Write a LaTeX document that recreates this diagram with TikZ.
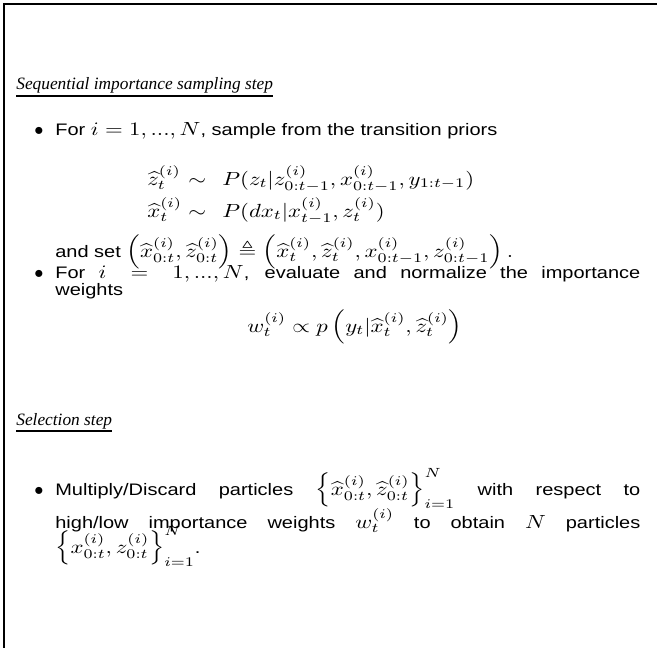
\RequirePackage{fix-cm}
\documentclass[tikz,border=0pt]{standalone}
\usepackage{amsmath,amssymb}
\usepackage{graphicx}
\usepackage[no-math]{fontspec}
\setmainfont{Liberation Serif}
\setsansfont{Liberation Sans}[Scale=0.877]
\usetikzlibrary{positioning}
% the item text is drawn a little wider than high
\newcommand{\widebox}[1]{\scalebox{1.2}[1]{#1}}
\newcommand{\fullline}[1]{\widebox{\makebox[292.5pt][s]{#1}}}
\tikzset{
  frame line/.style = {
    draw = black,
    line width = 1.6pt
  },
  % underlined step heading
  step title/.style = {
    font = \rmfamily\itshape\fontsize{10.4pt}{12pt}\selectfont,
    inner sep = 0,
    anchor = base west
  },
  title rule/.style = {
    draw = black,
    line width = 1pt
  },
  bullet mark/.style = {
    font = \fontsize{11pt}{13pt}\selectfont,
    inner sep = 0,
    anchor = base
  },
  item line/.style = {
    font = \sffamily\fontsize{11.4pt}{13pt}\selectfont,
    inner sep = 0,
    anchor = base west
  },
  formula/.style = {
    item line
  }
}

\begin{document}
\begin{tikzpicture}[x = 0.6pt, y = -0.6pt]
    \useasboundingbox (0,0) rectangle (657,648);
    \draw[frame line] (4,648) -- (4,4) -- (657,4);

    \node[step title] (sistitle) at (16,90) {Sequential importance sampling step};
    \draw[title rule] ([yshift=-3.6pt]sistitle.base west) -- ([yshift=-3.6pt]sistitle.base east);

    \node[bullet mark] (bulletone) at (39,135) {$\bullet$};
    \node[item line] (sample) at (55,135) {\widebox{For $i=1,...,N$, sample from the transition priors}};
    \node[formula] (zhat) at (147,185) {\widebox{$\widehat{z}^{(i)}_t$}};
    \node[formula] (zsim) at (188,185) {\widebox{$\sim$}};
    \node[formula] (zprior) at (222,185) {\widebox{$P(z_t|z^{(i)}_{0:t-1},x^{(i)}_{0:t-1},y_{1:t-1})$}};
    \node[formula] (xhat) at (147,217) {\widebox{$\widehat{x}^{(i)}_t$}};
    \node[formula] (xsim) at (188,217) {\widebox{$\sim$}};
    \node[formula] (xprior) at (222,217) {\widebox{$P(dx_t|x^{(i)}_{t-1},z^{(i)}_t)$}};
    \node[item line] (andset) at (55,257)
      {\widebox{and set $\left(\widehat{x}^{(i)}_{0:t},\widehat{z}^{(i)}_{0:t}\right)\triangleq\left(\widehat{x}^{(i)}_t,\widehat{z}^{(i)}_t,x^{(i)}_{0:t-1},z^{(i)}_{0:t-1}\right).$}};

    \node[bullet mark] (bullettwo) at (39,278) {$\bullet$};
    \node[item line] (evaluate) at (55,278)
      {\fullline{For $i=1,...,N$, evaluate and normalize the importance}};
    \node[item line] (weights) at (55,295) {\widebox{weights}};
    \node[formula] (weight) at (247,332)
      {\widebox{$w^{(i)}_t\propto p\left(y_t|\widehat{x}^{(i)}_t,\widehat{z}^{(i)}_t\right)$}};

    \node[step title] (seltitle) at (16,425) {Selection step};
    \draw[title rule] ([yshift=-3.6pt]seltitle.base west) -- ([yshift=-3.6pt]seltitle.base east);

    \node[bullet mark] (bulletthree) at (39,495) {$\bullet$};
    \node[item line] (multiply) at (55,495)
      {\fullline{Multiply/Discard particles $\left\{\widehat{x}^{(i)}_{0:t},\widehat{z}^{(i)}_{0:t}\right\}_{i=1}^N$ with respect to}};
    \node[item line] (highlow) at (55,528)
      {\fullline{high/low importance weights $w^{(i)}_t$ to obtain $N$ particles}};
    \node[item line] (obtained) at (55,553)
      {\widebox{$\left\{x^{(i)}_{0:t},z^{(i)}_{0:t}\right\}_{i=1}^N$.}};
\end{tikzpicture}
\end{document}
